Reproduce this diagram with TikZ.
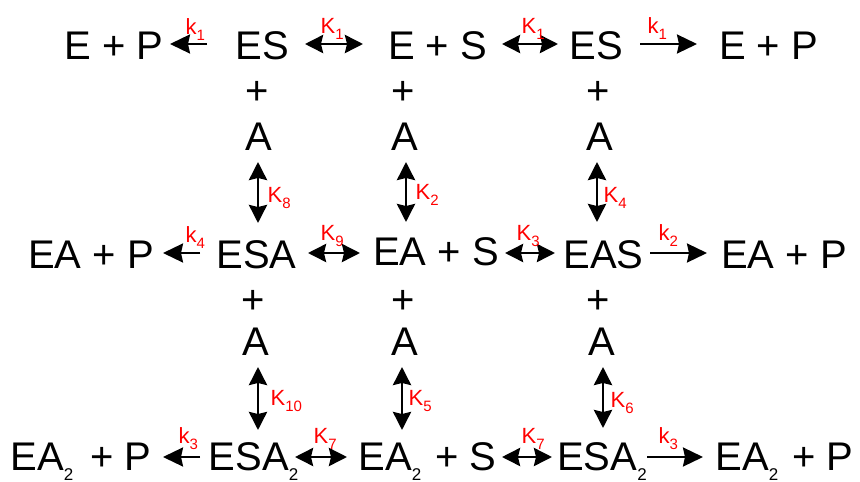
\documentclass[tikz,border=0pt]{standalone}
\usepackage{fontspec}
\setmainfont{Liberation Sans}
\usetikzlibrary{arrows.meta}
\definecolor{ratered}{RGB}{255,0,0}

% font size helper, subscript "2" for species, rate-constant label
\newcommand\fsz[1]{\fontsize{#1}{#1}\selectfont}
\newcommand\two{\raisebox{-10pt}{\fsz{17}2}}
\newcommand\rc[2]{\fsz{22}#1\raisebox{-6pt}{\fsz{15}#2}}

\begin{document}
\begin{tikzpicture}[x=1pt,y=-1pt,
  species/.style={inner sep=0pt, anchor=base, font=\fsz{40}},
  rate/.style={inner sep=0pt, anchor=base west, text=ratered},
  eqarrow/.style={line width=2.8pt, {Stealth[length=18pt,width=18pt,inset=2pt]}-{Stealth[length=18pt,width=18pt,inset=2pt]}},
  fwdarrow/.style={line width=2.4pt, -{Stealth[length=20pt,width=19pt,inset=2pt]}},
]
\useasboundingbox (0,0) rectangle (860,482);

% ---------- species: top row ----------
\node[species] (EPt1) at (114,59) {E + P};
\node[species] (ESt1) at (262.5,59) {ES};
\node[species] (ESt)  at (437.5,59) {E + S};
\node[species] (ESt2) at (596,59) {ES};
\node[species] (EPt2) at (768.5,59) {E + P};

% ---------- species: middle row ----------
\node[species] (EPm1) at (91,268) {EA + P};
\node[species] (ESAm) at (256.5,268) {ESA};
\node[species] (EASm) at (436,265) {EA + S};
\node[species] (EAS)  at (603.5,268) {EAS};
\node[species] (EPm2) at (784,268) {EA + P};

% ---------- species: bottom row ----------
\node[species] (EPb1) at (81,470) {EA\two\hspace{6pt} + P};
\node[species] (ESAb1) at (253.5,470) {ESA\two};
\node[species] (ESb)  at (427.5,470) {EA\two\hspace{3pt} + S};
\node[species] (ESAb2) at (602,470) {ESA\two};
\node[species] (EPb2) at (784.5,470) {EA\two\hspace{3pt} + P};

% ---------- "+ A" stacks ----------
\node[species] (p1a) at (257,104) {+};
\node[species] (p2a) at (403,104) {+};
\node[species] (p3a) at (598,104) {+};
\node[species] (A1a) at (259,150) {A};
\node[species] (A2a) at (405,150) {A};
\node[species] (A3a) at (600,150) {A};
\node[species] (p1b) at (253,313) {+};
\node[species] (p2b) at (403,313) {+};
\node[species] (p3b) at (598,313) {+};
\node[species] (A1b) at (256,355) {A};
\node[species] (A2b) at (405,355) {A};
\node[species] (A3b) at (602,355) {A};

% ---------- arrow end points ----------
\coordinate (a1s) at (207,44);  \coordinate (a1e) at (170,44);
\coordinate (a2s) at (305,44);  \coordinate (a2e) at (363,44);
\coordinate (a3s) at (502,44);  \coordinate (a3e) at (558,44);
\coordinate (a4s) at (640,44);  \coordinate (a4e) at (697,44);
\coordinate (b1s) at (200,253); \coordinate (b1e) at (163,253);
\coordinate (b2s) at (308,253); \coordinate (b2e) at (360,253);
\coordinate (b3s) at (505,253); \coordinate (b3e) at (555,253);
\coordinate (b4s) at (650,253); \coordinate (b4e) at (707,253);
\coordinate (c1s) at (200,457); \coordinate (c1e) at (163,457);
\coordinate (c2s) at (295,457); \coordinate (c2e) at (347,457);
\coordinate (c3s) at (502,457); \coordinate (c3e) at (552,457);
\coordinate (c4s) at (647,457); \coordinate (c4e) at (703,457);
\coordinate (v1s) at (258,162); \coordinate (v1e) at (258,223);
\coordinate (v2s) at (406,162); \coordinate (v2e) at (406,222);
\coordinate (v3s) at (597,162); \coordinate (v3e) at (597,222);
\coordinate (w1s) at (258,367); \coordinate (w1e) at (258,430);
\coordinate (w2s) at (402,367); \coordinate (w2e) at (402,430);
\coordinate (w3s) at (603,367); \coordinate (w3e) at (603,428);

% ---------- arrows ----------
\draw[fwdarrow] (a1s) -- (a1e);
\draw[eqarrow]  (a2s) -- (a2e);
\draw[eqarrow]  (a3s) -- (a3e);
\draw[fwdarrow] (a4s) -- (a4e);
\draw[fwdarrow] (b1s) -- (b1e);
\draw[eqarrow]  (b2s) -- (b2e);
\draw[eqarrow]  (b3s) -- (b3e);
\draw[fwdarrow] (b4s) -- (b4e);
\draw[fwdarrow] (c1s) -- (c1e);
\draw[eqarrow]  (c2s) -- (c2e);
\draw[eqarrow]  (c3s) -- (c3e);
\draw[fwdarrow] (c4s) -- (c4e);
\draw[eqarrow]  (v1s) -- (v1e);
\draw[eqarrow]  (v2s) -- (v2e);
\draw[eqarrow]  (v3s) -- (v3e);
\draw[eqarrow]  (w1s) -- (w1e);
\draw[eqarrow]  (w2s) -- (w2e);
\draw[eqarrow]  (w3s) -- (w3e);

% ---------- rate / equilibrium constants ----------
\node[rate] (lk1a) at (185.5,34) {\rc{k}{1}};
\node[rate] (lK1a) at (320.5,33) {\rc{K}{1}};
\node[rate] (lK1b) at (521.5,33) {\rc{K}{1}};
\node[rate] (lk1b) at (647.5,33) {\rc{k}{1}};
\node[rate] (lk4)  at (185.5,242) {\rc{k}{4}};
\node[rate] (lK9)  at (320.5,240) {\rc{K}{9}};
\node[rate] (lK3)  at (516.5,240) {\rc{K}{3}};
\node[rate] (lk2)  at (658.5,240) {\rc{k}{2}};
\node[rate] (lK8)  at (267.5,202) {\rc{K}{8}};
\node[rate] (lK2)  at (415.5,199) {\rc{K}{2}};
\node[rate] (lK4)  at (603.5,202) {\rc{K}{4}};
\node[rate] (lk3a) at (178.5,443) {\rc{k}{3}};
\node[rate] (lK7a) at (313.5,443) {\rc{K}{7}};
\node[rate] (lK7b) at (521.5,443) {\rc{K}{7}};
\node[rate] (lk3b) at (658.5,443) {\rc{k}{3}};
\node[rate] (lK10) at (270.5,405) {\rc{K}{10}};
\node[rate] (lK5)  at (408.5,405) {\rc{K}{5}};
\node[rate] (lK6)  at (610.5,407) {\rc{K}{6}};
\end{tikzpicture}
\end{document}
